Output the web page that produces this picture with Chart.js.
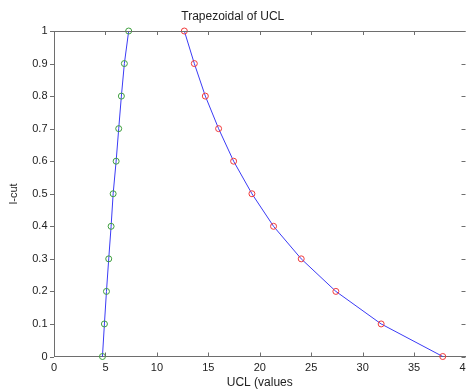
<!DOCTYPE html>
<html>
<head>
<meta charset="utf-8">
<script src="https://cdn.jsdelivr.net/npm/chart.js@4/dist/chart.umd.min.js"></script>
<style>
html,body{margin:0;padding:0;background:#fff;overflow:hidden;width:466px;height:390px;}
#wrap{position:absolute;left:0;top:0;width:480px;height:390px;}
</style>
</head>
<body>
<div id="wrap"><canvas id="c" width="480" height="390"></canvas></div>
<script>
// alpha-cut levels
const levels = [0, 0.1, 0.2, 0.3, 0.4, 0.5, 0.6, 0.7, 0.8, 0.9, 1.0];
// left (lower) bound of UCL at each cut
const leftUCL = [4.71, 4.90, 5.10, 5.32, 5.55, 5.75, 6.04, 6.29, 6.55, 6.84, 7.26];
// right (upper) bound of UCL at each cut
const rightUCL = [37.79, 31.80, 27.40, 24.03, 21.34, 19.24, 17.46, 16.00, 14.71, 13.64, 12.67];
// tick labels
const xTicks = [0, 5, 10, 15, 20, 25, 30, 35, 40];
const yTicks = [0, 0.1, 0.2, 0.3, 0.4, 0.5, 0.6, 0.7, 0.8, 0.9, 1];

const AXIS = '#6e6e6e';
const TXT = '#222222';
const FONT = "'Liberation Sans', Arial, sans-serif";

const framePlugin = {
  id: 'frame',
  afterDraw(chart) {
    const {ctx, chartArea: a, scales: {x, y}} = chart;
    const L = 4;
    ctx.save();
    ctx.strokeStyle = AXIS;
    ctx.lineWidth = 1;
    ctx.beginPath();
    ctx.moveTo(a.left, Math.round(a.top) + 0.5);
    ctx.lineTo(a.right, Math.round(a.top) + 0.5);
    ctx.moveTo(Math.round(a.right) + 0.5, a.top);
    ctx.lineTo(Math.round(a.right) + 0.5, a.bottom);
    xTicks.forEach(v => {
      const px = Math.round(x.getPixelForValue(v)) + 0.5;
      ctx.moveTo(px, a.bottom); ctx.lineTo(px, a.bottom - L);
      ctx.moveTo(px, a.top); ctx.lineTo(px, a.top + L);
    });
    yTicks.forEach(v => {
      const py = Math.round(y.getPixelForValue(v)) + 0.5;
      ctx.moveTo(a.left, py); ctx.lineTo(a.left - L, py);
      ctx.moveTo(a.right, py); ctx.lineTo(a.right - L, py);
    });
    ctx.stroke();
    ctx.restore();
  }
};

new Chart(document.getElementById('c'), {
  type: 'scatter',
  data: {
    datasets: [
      {
        data: leftUCL.map((v, i) => ({x: v, y: levels[i]})),
        showLine: true,
        clip: false,
        borderColor: '#3b3bf5',
        borderWidth: 1,
        pointStyle: 'circle',
        pointRadius: 3,
        pointBorderWidth: 1,
        pointBorderColor: '#3f9f3f',
        pointBackgroundColor: 'rgba(0,0,0,0)',
        tension: 0
      },
      {
        data: rightUCL.map((v, i) => ({x: v, y: levels[i]})),
        showLine: true,
        clip: false,
        borderColor: '#3b3bf5',
        borderWidth: 1,
        pointStyle: 'circle',
        pointRadius: 3,
        pointBorderWidth: 1,
        pointBorderColor: '#f03a3a',
        pointBackgroundColor: 'rgba(0,0,0,0)',
        tension: 0
      }
    ]
  },
  options: {
    responsive: false,
    animation: false,
    events: [],
    layout: {padding: {left: 0, right: 14.5, top: 0, bottom: 0}},
    plugins: {
      legend: {display: false},
      tooltip: {enabled: false},
      title: {
        display: true,
        text: 'Trapezoidal of UCL',
        color: TXT,
        font: {family: FONT, size: 12, weight: 'normal'},
        padding: {top: 9, bottom: 7.6}
      }
    },
    scales: {
      x: {
        type: 'linear',
        min: 0, max: 40,
        afterBuildTicks: s => { s.ticks = xTicks.map(v => ({value: v})); },
        afterFit: s => { s.height = 33.5; },
        grid: {display: false, drawTicks: false},
        border: {display: true, color: AXIS, width: 1},
        ticks: {color: TXT, font: {family: FONT, size: 11}, padding: 5, maxRotation: 0, autoSkip: false,
                callback: v => String(v)},
        title: {display: true, text: 'UCL (values', color: TXT, font: {family: FONT, size: 12}, padding: {top: 0, bottom: 0}}
      },
      y: {
        type: 'linear',
        min: 0, max: 1,
        afterBuildTicks: s => { s.ticks = yTicks.map(v => ({value: v})); },
        afterFit: s => { s.width = 54; },
        grid: {display: false, drawTicks: false},
        border: {display: true, color: AXIS, width: 1},
        ticks: {color: TXT, font: {family: FONT, size: 11}, padding: 6.5, autoSkip: false,
                callback: v => String(v)},
        title: {display: true, text: 'l-cut', color: TXT, font: {family: FONT, size: 11}, padding: {top: 7, bottom: 0}}
      }
    }
  },
  plugins: [framePlugin]
});
</script>
</body>
</html>
